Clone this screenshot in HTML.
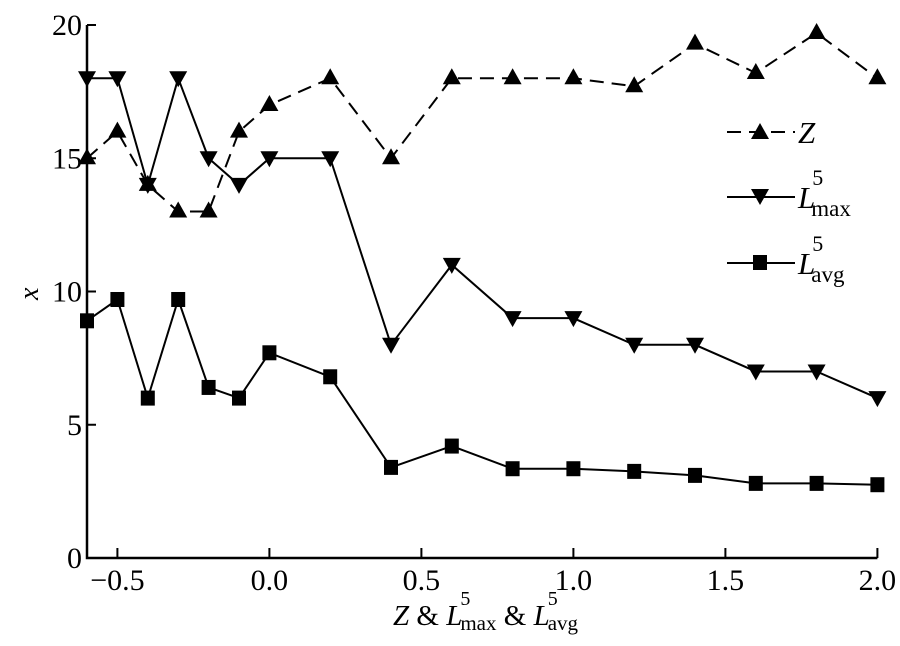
<!DOCTYPE html>
<html><head><meta charset="utf-8"><style>
body{margin:0;background:#fff}
svg text{font-family:"Liberation Serif",serif;fill:#000}
</style></head><body>
<svg width="900" height="641" viewBox="0 0 900 641">
<g id="axes"></g><g id="series"></g>
<g>
 <line x1="727" y1="132" x2="795" y2="132" stroke="#000" stroke-width="2" stroke-dasharray="14,8"/>
 <polygon points="760,123 769,139 751,139" fill="#000"/>
 <text x="798" y="143" font-size="31" font-style="italic">Z</text>
 <line x1="727" y1="197" x2="795" y2="197" stroke="#000" stroke-width="2"/>
 <polygon points="751,189 769,189 760,205" fill="#000"/>
 <text x="798" y="208" font-size="31" font-style="italic">L<tspan font-style="normal" font-size="22" dx="-3" dy="-23">5</tspan><tspan font-style="normal" font-size="23" dx="-12" dy="31">max</tspan></text>
 <line x1="727" y1="263" x2="795" y2="263" stroke="#000" stroke-width="2"/>
 <rect x="753" y="255" width="14" height="15" fill="#000"/>
 <text x="798" y="274" font-size="31" font-style="italic">L<tspan font-style="normal" font-size="22" dx="-3" dy="-23">5</tspan><tspan font-style="normal" font-size="23" dx="-12" dy="31">avg</tspan></text>
</g>
<text x="22" y="300" font-size="28" font-style="italic" transform="rotate(-90 30 292)">x</text>
<text x="393" y="625" font-size="29"><tspan font-style="italic">Z</tspan> &amp; <tspan font-style="italic">L</tspan><tspan font-size="20" dx="-2" dy="-20">5</tspan><tspan font-size="21" dx="-10" dy="25">max</tspan><tspan dy="-5"> &amp; </tspan><tspan font-style="italic">L</tspan><tspan font-size="20" dx="-2" dy="-20">5</tspan><tspan font-size="21" dx="-10" dy="25">avg</tspan></text>
</svg>
<script>
const xs=[-0.6,-0.5,-0.4,-0.3,-0.2,-0.1,0,0.2,0.4,0.6,0.8,1.0,1.2,1.4,1.6,1.8,2.0];
const zVals=[15,16,14,13,13,16,17,18,15,18,18,18,17.7,19.3,18.2,19.7,18];
const lmaxVals=[18,18,14,18,15,14,15,15,8,11,9,9,8,8,7,7,6];
const lavgVals=[8.9,9.7,6.0,9.7,6.4,6.0,7.7,6.8,3.4,4.2,3.35,3.35,3.25,3.1,2.8,2.8,2.75];
const xTicks=[-0.5,0,0.5,1.0,1.5,2.0];
const xTickLabels=["\u22120.5","0.0","0.5","1.0","1.5","2.0"];
const yTicks=[0,5,10,15,20];
const NS="http://www.w3.org/2000/svg";
const X=v=>87+(v+0.6)*304;
const Y=v=>558-v*26.65;
function mk(t,a,p){const e=document.createElementNS(NS,t);for(const k in a)e.setAttribute(k,a[k]);p.appendChild(e);return e;}
const ax=document.getElementById('axes'), sg=document.getElementById('series');
let e=mk('path',{d:`M87,${Y(20)} V558 H${X(2)}`,fill:'none',stroke:'#000','stroke-width':2.5},ax);


xTicks.forEach((v,i)=>{
 let t=mk('line',{x1:X(v),x2:X(v),y1:558,y2:548,stroke:'#000','stroke-width':2},ax);
 
 
 let l=mk('text',{x:X(v),y:590,'font-size':30,'text-anchor':'middle'},ax);l.textContent=xTickLabels[i];
 
 
});
yTicks.forEach(v=>{
 let t=mk('line',{x1:87,x2:96,y1:Y(v),y2:Y(v),stroke:'#000','stroke-width':2},ax);
 
 
 let l=mk('text',{x:82,y:Y(v)+10,'font-size':30,'text-anchor':'end'},ax);l.textContent=v;
 
 
});
function series(vals,name,dash,marker){
 const p=xs.map((x,i)=>X(x)+','+Y(vals[i])).join(' ');
 let l=mk('polyline',{points:p,fill:'none',stroke:'#000','stroke-width':2,'stroke-dasharray':dash},sg);
 
 
 xs.forEach((x,i)=>{
  const cx=X(x),cy=Y(vals[i]);let m;
  if(marker==='up')m=mk('polygon',{points:`${cx},${cy-10} ${cx+9},${cy+6} ${cx-9},${cy+6}`},sg);
  else if(marker==='down')m=mk('polygon',{points:`${cx-9},${cy-7} ${cx+9},${cy-7} ${cx},${cy+9}`},sg);
  else m=mk('rect',{x:cx-7,y:cy-7.5,width:14,height:15},sg);
  m.setAttribute('fill','#000');
  
  
 });
}
series(zVals,'z','14,8','up');
series(lmaxVals,'lmax','none','down');
series(lavgVals,'lavg','none','sq');
</script>
</body></html>
